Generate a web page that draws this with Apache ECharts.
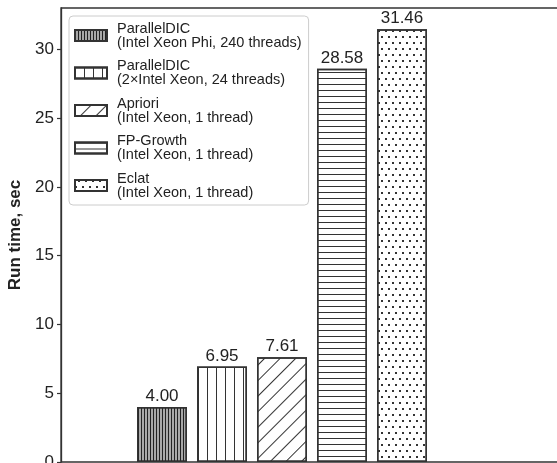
<!DOCTYPE html>
<html>
<head>
<meta charset="utf-8">
<script src="https://cdn.jsdelivr.net/npm/echarts@6/dist/echarts.min.js"></script>
<style>
html,body{margin:0;padding:0;background:#fff;}
#chart{width:557px;height:463px;}
</style>
</head>
<body>
<div id="chart"></div>
<script>
// ---- data ----
var seriesNames = [
  'ParallelDIC\n(Intel Xeon Phi, 240 threads)',
  'ParallelDIC\n(2\u00d7Intel Xeon, 24 threads)',
  'Apriori\n(Intel Xeon, 1 thread)',
  'FP-Growth\n(Intel Xeon, 1 thread)',
  'Eclat\n(Intel Xeon, 1 thread)'
];
var categories = ['ParallelDIC Phi', 'ParallelDIC Xeon', 'Apriori', 'FP-Growth', 'Eclat'];
var runTimes = [4.00, 6.95, 7.61, 28.58, 31.46];
var yTicks = [0, 5, 10, 15, 20, 25, 30];

// ---- styles ----
var ink = '#333';
var decals = [
  {symbol: 'rect', dashArrayX: [1, 2], dashArrayY: [1, 0], color: '#222'},
  {symbol: 'rect', dashArrayX: [1, 8], dashArrayY: [1, 0], color: ink},
  {symbol: 'rect', dashArrayX: [1, 0], dashArrayY: [1, 10], rotation: -Math.PI / 4, color: ink},
  {symbol: 'rect', dashArrayX: [1, 0], dashArrayY: [1, 5], color: ink},
  {symbol: 'rect', dashArrayX: [[2, 5], [0, 3, 2, 2]], dashArrayY: [2, 4], color: ink}
];
var fills = ['#a8a8a8', '#fff', '#fff', '#fff', '#fff'];

var chart = echarts.init(document.getElementById('chart'), null, {renderer: 'canvas'});

var series = seriesNames.map(function (name, i) {
  var data = categories.map(function (c, j) { return j === i ? runTimes[i] : '-'; });
  return {
    name: name,
    type: 'bar',
    xAxisIndex: 1,
    yAxisIndex: 1,
    data: data,
    barWidth: 50,
    barGap: '-100%',
    itemStyle: {color: fills[i], borderColor: ink, borderWidth: 1.5, decal: decals[i]},
    label: {
      show: true, position: 'top', distance: 2,
      fontFamily: 'Liberation Sans', fontSize: 17, color: '#222',
      formatter: function (p) { return p.value.toFixed(2); }
    }
  };
});

chart.setOption({
  animation: false,
  aria: {enabled: false},
  grid: [
    {left: 61, top: 8, right: -3, bottom: 1, outerBoundsMode: 'none', containLabel: false,
     show: true, borderColor: ink, borderWidth: 1.3, backgroundColor: 'transparent'},
    {left: 132, width: 300, top: 8, bottom: 1, outerBoundsMode: 'none', containLabel: false}
  ],
  xAxis: [
    {type: 'value', gridIndex: 0, min: 0, max: 1, show: false},
    {type: 'category', gridIndex: 1, data: categories, show: false}
  ],
  yAxis: [
    {
      type: 'value', gridIndex: 0, min: 0, max: 33,
      name: 'Run time, sec', nameLocation: 'middle', nameGap: 35,
      nameTextStyle: {fontFamily: 'Liberation Sans', fontSize: 17, fontWeight: 'bold', color: '#222'},
      axisLine: {show: true, lineStyle: {color: ink, width: 1.3}},
      axisTick: {show: true, length: 4, customValues: yTicks, lineStyle: {color: ink, width: 1.2}},
      axisLabel: {customValues: yTicks, margin: 7, fontFamily: 'Liberation Sans', fontSize: 17, color: '#222'},
      splitLine: {show: false}
    },
    {type: 'value', gridIndex: 1, min: 0, max: 33, show: false}
  ],
  legend: {
    orient: 'vertical', left: 69, top: 16,
    padding: [5, 7, 5, 5],
    itemGap: 8.5, itemWidth: 32, itemHeight: 11, icon: 'rect',
    backgroundColor: '#fff', borderColor: '#ccc', borderWidth: 1, borderRadius: 4,
    textStyle: {fontFamily: 'Liberation Sans', fontSize: 14.5, lineHeight: 14, color: '#222', padding: [0, 0, 0, 5]},
    data: seriesNames
  },
  series: series
});
</script>
</body>
</html>
